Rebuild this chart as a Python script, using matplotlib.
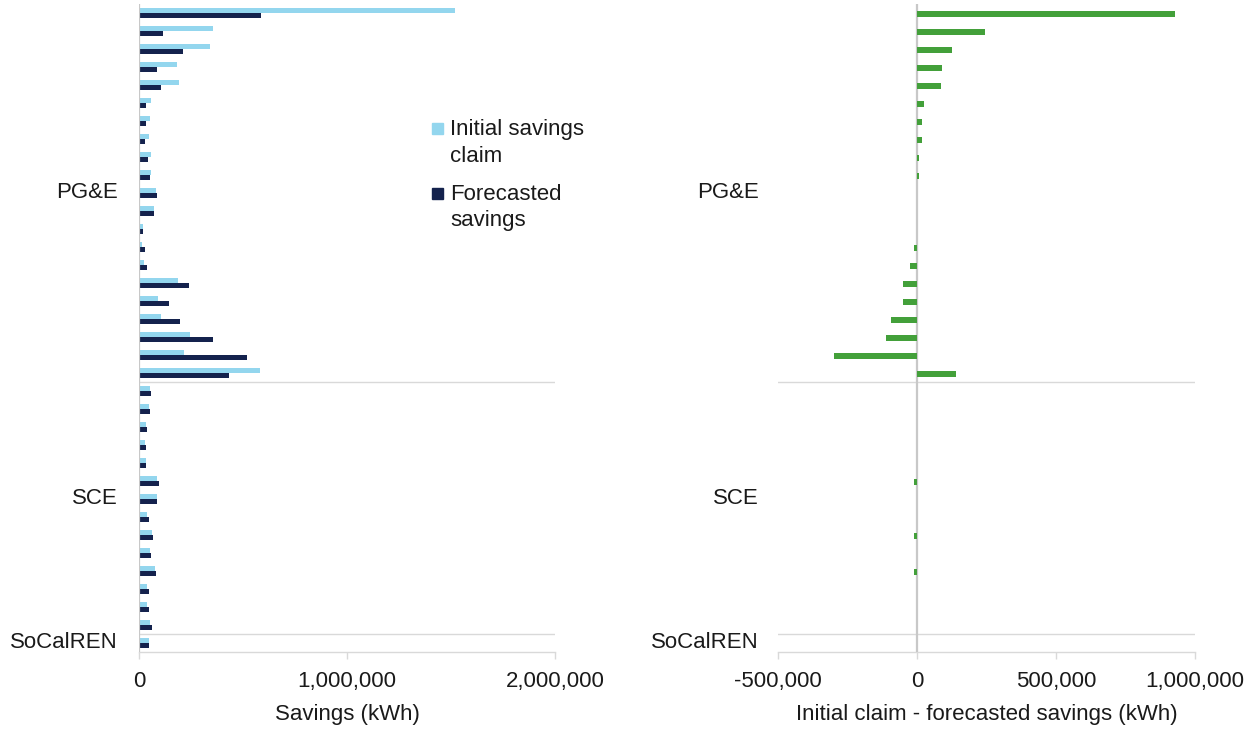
import matplotlib
matplotlib.use("Agg")
import matplotlib.pyplot as plt
import matplotlib.transforms as mtransforms
from matplotlib.ticker import FuncFormatter, FixedLocator
from matplotlib.patches import Rectangle
import numpy as np

plt.rcParams['font.family'] = ['Liberation Sans', 'DejaVu Sans']
plt.rcParams['font.size'] = 16

# ---------------- data ----------------
groups = ["PG&E", "SCE", "SoCalREN"]
group_sizes = [21, 14, 1]
group_label_rows = [10, 27, 35]

initial_claim = [1518000, 357000, 340000, 181000, 192000, 58000, 53000, 47000, 58000, 58000,
                 84000, 72000, 18000, 16000, 22000, 187000, 93000, 104000, 245000, 216000, 580000,
                 53000, 47000, 34000, 29000, 34000, 88000, 88000, 40000, 64000, 53000, 75000,
                 40000, 40000, 53000,
                 47000]
forecasted = [585000, 117000, 210000, 88000, 104000, 34000, 34000, 29000, 45000, 53000,
              86000, 74000, 21000, 28000, 40000, 240000, 146000, 199000, 357000, 521000, 433000,
              59000, 53000, 40000, 34000, 34000, 95000, 88000, 47000, 69000, 59000, 82000,
              47000, 47000, 64000,
              47000]
claim_minus_forecast = [927000, 243000, 125000, 90000, 86000, 24000, 19000, 19000, 7000, 7000,
                        0, 0, 0, -10000, -24000, -50000, -50000, -95000, -113000, -300000, 142000,
                        0, 0, 0, 0, 0, -9000, 0, 0, -9000, 0, -9000, 0, 0, 0,
                        0]

left_ticks = [0, 1000000, 2000000]
right_ticks = [-500000, 0, 500000, 1000000]

legend_labels = [["Initial savings", "claim"], ["Forecasted", "savings"]]

# ---------------- style ----------------
c_light = '#93D6EE'
c_dark = '#14224D'
c_green = '#43A03A'
c_axis = '#C8C8C8'
c_sep = '#D9D9D9'
c_text = '#1a1a1a'

W, H = 1254, 731
fig = plt.figure(figsize=(W / 100, H / 100), dpi=100)

top_px, bot_px = 4, 652
axL = fig.add_axes([139 / W, 1 - bot_px / H, 416 / W, (bot_px - top_px) / H])
axR = fig.add_axes([778 / W, 1 - bot_px / H, 417 / W, (bot_px - top_px) / H])

n = len(initial_claim)
rows = np.arange(n)

axL.barh(rows - 0.15, initial_claim, height=0.3, color=c_light, zorder=3)
axL.barh(rows + 0.15, forecasted, height=0.3, color=c_dark, zorder=3)
axR.barh(rows + 0.05, claim_minus_forecast, height=0.37, color=c_green, zorder=5)

fmt = FuncFormatter(lambda v, p: f"{int(round(v)):,}")

boundaries = np.cumsum(group_sizes)[:-1] - 0.5

for ax, xlim, ticks in [(axL, (0, 2000000), left_ticks), (axR, (-500000, 1000000), right_ticks)]:
    ax.set_xlim(*xlim)
    ax.set_ylim(n - 0.5, -0.5)
    ax.xaxis.set_major_locator(FixedLocator(ticks))
    ax.xaxis.set_major_formatter(fmt)
    ax.set_yticks([])
    for s in ['top', 'right', 'left']:
        ax.spines[s].set_visible(False)
    ax.spines['bottom'].set_color(c_sep)
    ax.spines['bottom'].set_linewidth(1.0)
    ax.tick_params(axis='x', direction='out', length=5, width=1, color=c_sep,
                   labelsize=16, labelcolor=c_text, pad=9)
    ax.axvline(0, color=c_axis, lw=1.6, zorder=4)
    for b in boundaries:
        ax.axhline(b, color=c_sep, lw=1.0, zorder=2)

axL.set_xlabel("Savings (kWh)", fontsize=16, color=c_text, labelpad=8)
axR.set_xlabel("Initial claim - forecasted savings (kWh)", fontsize=16, color=c_text, labelpad=8)

# group labels
for ax, xpx in [(axL, 118), (axR, 759)]:
    tr = mtransforms.blended_transform_factory(fig.transFigure, ax.transData)
    for g, r in zip(groups, group_label_rows):
        ax.text(xpx / W, r, g, transform=tr, ha='right', va='center',
                fontsize=16, color=c_text, clip_on=False)

# legend (manual)
sq = 11
for (lines, col, y_sq, baselines) in [(legend_labels[0], c_light, 123, [135, 162]),
                                      (legend_labels[1], c_dark, 188, [200, 226])]:
    fig.patches.append(Rectangle((432 / W, 1 - (y_sq + sq) / H), sq / W, sq / H,
                                 transform=fig.transFigure, color=col))
    for line, bl in zip(lines, baselines):
        fig.text(450 / W, 1 - bl / H, line, ha='left', va='baseline',
                 fontsize=16, color=c_text)

fig.savefig("out.png", dpi=100)
